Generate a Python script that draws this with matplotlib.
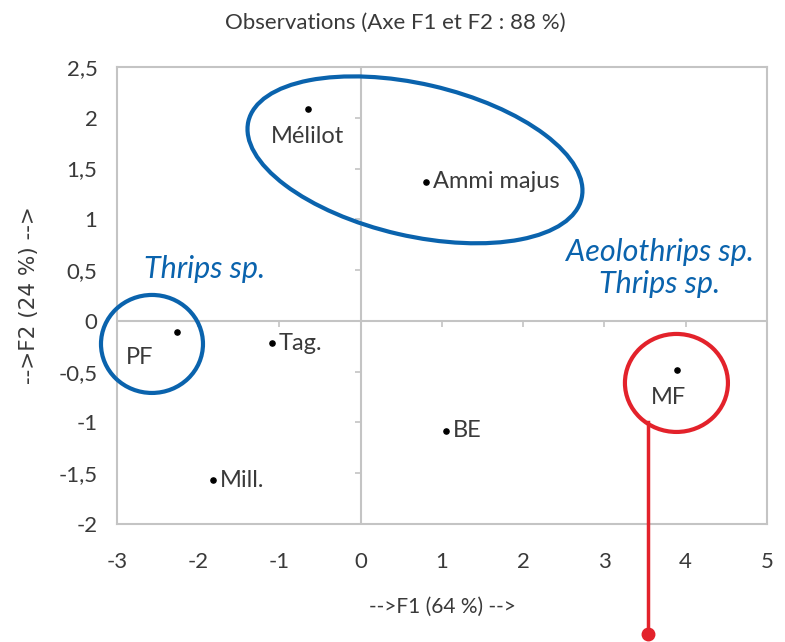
import numpy as np
import matplotlib.pyplot as plt
from matplotlib.patches import Ellipse
from matplotlib.transforms import ScaledTranslation
from matplotlib.markers import TICKLEFT, TICKDOWN

# observations (ACP, axes F1 / F2)
names = ['Mélilot', 'Ammi majus', 'PF', 'Tag.', 'Mill.', 'BE', 'MF']
f1 = [-0.65, 0.80, -2.26, -1.09, -1.82, 1.05, 3.89]
f2 = [2.09, 1.37, -0.11, -0.22, -1.57, -1.08, -0.48]

# label offsets (points) and alignment
offsets = [(0, -20, 'center'), (5, 0, 'left'), (-27, -18, 'center'), (5, 0, 'left'),
           (5, 0, 'left'), (5, 0, 'left'), (-6, -20, 'center')]

xticks = [-3, -2, -1, 0, 1, 2, 3, 4, 5]
yticks = [-2, -1.5, -1, -0.5, 0, 0.5, 1, 1.5, 2, 2.5]

blue = '#0a63ad'
red = '#e3222b'
txt = '#3a3a3a'
grey = '#c4c4c4'

plt.rcParams['font.family'] = ['Lato', 'DejaVu Sans']

fig = plt.figure(figsize=(7.85, 6.42), dpi=100)
ax = fig.add_axes([0.149, 0.1838, 0.828, 0.7118])

ax.set_xlim(-3, 5)
ax.set_ylim(-2, 2.5)
ax.set_xticks(xticks)
ax.set_yticks(yticks)
ax.set_xticklabels([str(t) for t in xticks])
ax.set_yticklabels([('%g' % t).replace('.', ',') for t in yticks])
ax.tick_params(length=0, labelsize=16, colors=txt)
ax.tick_params(axis='x', pad=20)
ax.tick_params(axis='y', pad=14)
for s in ax.spines.values():
    s.set_color(grey)
    s.set_linewidth(1.5)

# axes through origin with small ticks
ax.axhline(0, color=grey, lw=1.5, zorder=1)
ax.axvline(0, color=grey, lw=1.5, zorder=1)
ax.plot(np.zeros(len(yticks)), yticks, ls='none', marker=TICKLEFT, ms=4, mec=grey, mew=1.2)
ax.plot(xticks, np.zeros(len(xticks)), ls='none', marker=TICKDOWN, ms=4, mec=grey, mew=1.2)

ax.scatter(f1, f2, s=14, color='black', zorder=3)
for n, x, y, (dx, dy, ha) in zip(names, f1, f2, offsets):
    ax.annotate(n, (x, y), xytext=(dx, dy), textcoords='offset points',
                ha=ha, va='center', fontsize=17, color=txt)

fig.text(0.503, 0.965, 'Observations (Axe F1 et F2 : 88 %)', fontsize=16, color=txt,
         ha='center', va='center')
ax.set_xlabel('-->F1 (64 %) -->', fontsize=15, color=txt, labelpad=18)
ax.set_ylabel('-->F2 (24 %) -->', fontsize=15.5, color=txt, labelpad=14, family='DejaVu Sans')


def ring(cx, cy, w, h, ang, color):
    # size in inches, centre in data units
    tr = fig.dpi_scale_trans + ScaledTranslation(cx, cy, ax.transData)
    e = Ellipse((0, 0), w, h, angle=ang, fill=False, ec=color, lw=3, transform=tr,
                clip_on=False, zorder=4)
    ax.add_patch(e)


ring(0.668, 1.586, 3.42, 1.52, -13, blue)
ring(-2.569, -0.227, 1.02, 0.98, 0, blue)
ring(3.886, -0.611, 1.03, 0.98, 0, red)

ax.text(-1.917, 0.512, 'Thrips sp.', color=blue, fontsize=22, style='italic',
        ha='center', va='center')
ax.text(3.683, 0.52, 'Aeolothrips sp.\nThrips sp.', color=blue, fontsize=22,
        style='italic', ha='center', va='center', linespacing=1.2)

# red pointer leaving the MF circle
ax.plot([3.535, 3.535], [-1.0, -3.08], color=red, lw=2.5, clip_on=False, zorder=4)
ax.plot([3.535], [-3.08], 'o', color=red, ms=9, clip_on=False, zorder=4)

fig.savefig('out.png', dpi=100)
